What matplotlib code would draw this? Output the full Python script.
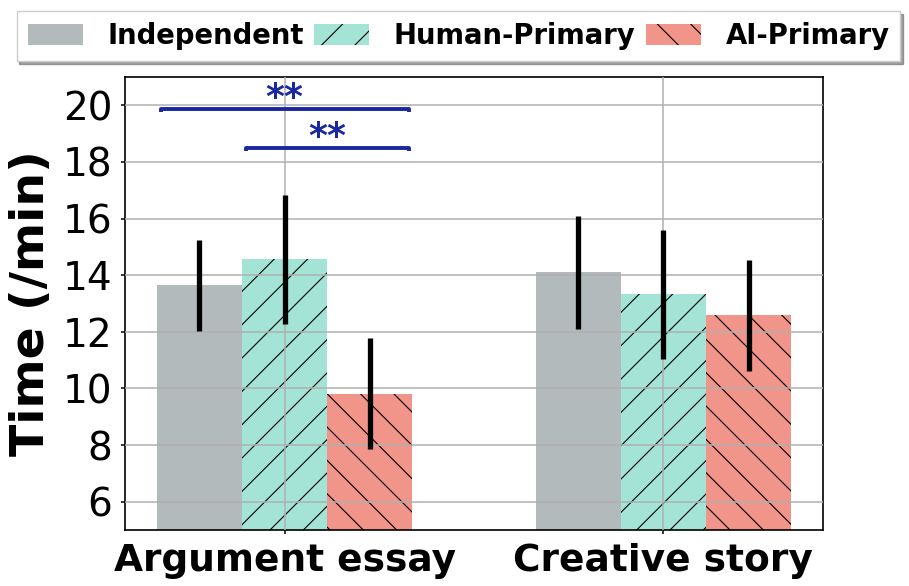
import matplotlib
matplotlib.use("Agg")
import matplotlib.pyplot as plt
import numpy as np

# ---- data ----
tasks = ["Argument essay", "Creative story"]
conditions = ["Independent", "Human-Primary", "AI-Primary"]
means = {
    "Independent": [13.64, 14.10],
    "Human-Primary": [14.56, 13.32],
    "AI-Primary": [9.82, 12.58],
}
errors = {
    "Independent": [1.60, 2.00],
    "Human-Primary": [2.28, 2.28],
    "AI-Primary": [1.95, 1.96],
}
yticks = [6, 8, 10, 12, 14, 16, 18, 20]
# significance: (task index, condition a, condition b, y level, label)
sig_pairs = [
    (0, "Independent", "AI-Primary", 19.86, "**"),
    (0, "Human-Primary", "AI-Primary", 18.48, "**"),
]

colors = {"Independent": "#B2BABB", "Human-Primary": "#A3E4D7", "AI-Primary": "#F1948A"}
hatches = {"Independent": "", "Human-Primary": "/", "AI-Primary": "\\"}
sig_color = "#1a28a0"

plt.rcParams["hatch.linewidth"] = 0.8
plt.rcParams["font.family"] = ["DejaVu Sans"]

DPI = 100
fig = plt.figure(figsize=(909 / DPI, 586 / DPI), dpi=DPI)
ax = fig.add_axes([125 / 909, 1 - 530 / 586, (823 - 125) / 909, (530 - 77) / 586])

x = np.arange(len(tasks))
width = 0.225
offsets = {c: (i - 1) * width for i, c in enumerate(conditions)}

for c in conditions:
    ax.bar(x + offsets[c], means[c], width, color=colors[c], hatch=hatches[c],
           edgecolor="black", linewidth=0, label=c, zorder=1)
    ax.errorbar(x + offsets[c], means[c], yerr=errors[c], fmt="none",
                ecolor="black", elinewidth=3.8, capsize=0, zorder=4)

ax.set_ylim(5, 21)
ax.set_yticks(yticks)
ax.set_xticks(x)
ax.set_xticklabels(tasks, fontsize=27, fontweight="bold")
ax.tick_params(axis="y", labelsize=28, length=3.2, width=1.1, pad=6)
ax.tick_params(axis="x", length=3.2, width=1.1, pad=6)
ax.set_ylabel("Time (/min)", fontsize=34, fontweight="bold", labelpad=6)
ax.grid(True, color="#b0b0b0", linewidth=1.1, zorder=2)
ax.set_axisbelow(False)
for s in ax.spines.values():
    s.set_linewidth(1.2)

inset = 0.01
tip = 0.1
for ti, a, b, yv, lab in sig_pairs:
    x1 = ti + offsets[a] - width / 2 + inset
    x2 = ti + offsets[b] + width / 2 - inset
    ax.plot([x1, x1, x2, x2], [yv - tip, yv, yv, yv - tip], color=sig_color,
            lw=2.8, zorder=5, solid_capstyle="butt")
    ax.text((x1 + x2) / 2, yv + 0.4, lab, ha="center", va="center",
            fontsize=26, fontweight="bold", color=sig_color, zorder=5)

leg = fig.legend(loc="center", bbox_to_anchor=(458.5 / 909, 1 - 36 / 586), ncol=3,
                 prop={"weight": "bold", "size": 19.8}, shadow=True, fancybox=False,
                 handlelength=2.0, handleheight=0.8, handletextpad=0.9,
                 columnspacing=0.37, borderpad=0.4)
leg.get_frame().set_linewidth(1.0)

fig.savefig("out.png", dpi=DPI)
